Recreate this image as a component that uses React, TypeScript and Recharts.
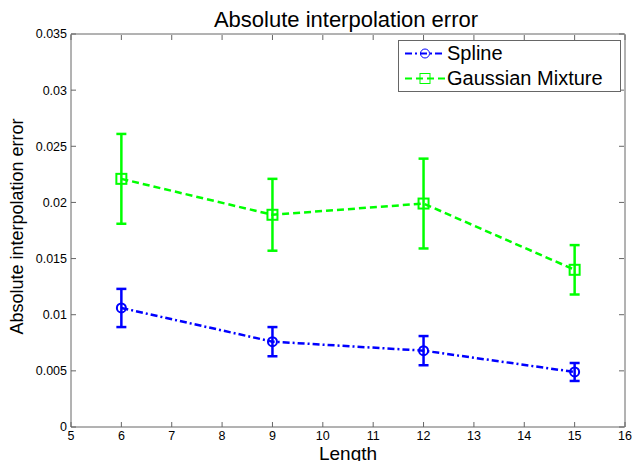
import { ComposedChart, Line, XAxis, YAxis, ErrorBar, Legend } from "recharts";

// values
const lengths = [6, 9, 12, 15];
const splineErr = [0.0106, 0.0076, 0.0068, 0.0049];
const splineStd = [0.0017, 0.0013, 0.0013, 0.0008];
const gaussErr = [0.0221, 0.0189, 0.0199, 0.014];
const gaussStd = [0.004, 0.0032, 0.004, 0.0022];

const xTicks = [5, 6, 7, 8, 9, 10, 11, 12, 13, 14, 15, 16];
const yTicks = [0, 0.005, 0.01, 0.015, 0.02, 0.025, 0.03, 0.035];

const data = lengths.map((len, i) => ({
  len,
  spline: splineErr[i],
  splineStd: splineStd[i],
  gauss: gaussErr[i],
  gaussStd: gaussStd[i],
}));

const BLUE = "#0000ff";
const GREEN = "#00ff00";
const AXIS = "#666";
const FONT = "'Liberation Sans', Arial, sans-serif";
const TICK_LEN = 5;

const BottomTick = (p: any) => (
  <g>
    <line x1={p.x} x2={p.x} y1={p.y - 4} y2={p.y - 4 - TICK_LEN} stroke={AXIS} />
    <text x={p.x} y={p.y} dy="0.71em" textAnchor="middle" fontSize={12.5} fontFamily={FONT} fill="#000">
      {p.payload.value}
    </text>
  </g>
);

const LeftTick = (p: any) => (
  <g>
    <line x1={p.x + 4} x2={p.x + 4 + TICK_LEN} y1={p.y} y2={p.y} stroke={AXIS} />
    <text x={p.x} y={p.y} dy="0.355em" textAnchor="end" fontSize={12.5} fontFamily={FONT} fill="#000">
      {String(p.payload.value)}
    </text>
  </g>
);

// top/right axes: 1px wide boxes, ticks point into the plot
const TopTick = (p: any) => (
  <line x1={p.x} x2={p.x} y1={p.y + 1} y2={p.y + 1 + TICK_LEN} stroke={AXIS} />
);

const RightTick = (p: any) => (
  <line x1={p.x - 1} x2={p.x - 1 - TICK_LEN} y1={p.y} y2={p.y} stroke={AXIS} />
);

const LegendBox = () => (
  <div
    style={{
      border: `1px solid ${AXIS}`,
      background: "#fff",
      fontFamily: FONT,
      fontSize: 20,
      width: 221,
      boxSizing: "content-box",
    }}
  >
    <div style={{ display: "flex", alignItems: "center", height: 25 }}>
      <svg width={48} height={25}>
        <line x1={6} x2={46} y1={12.5} y2={12.5} stroke={BLUE} strokeWidth={2} strokeDasharray="7 3 2 3" />
        <circle cx={26} cy={12.5} r={4.5} stroke={BLUE} fill="none" strokeWidth={1} />
      </svg>
      <span style={{ lineHeight: "25px" }}>Spline</span>
    </div>
    <div style={{ display: "flex", alignItems: "center", height: 25 }}>
      <svg width={48} height={25}>
        <line x1={6} x2={46} y1={12.5} y2={12.5} stroke={GREEN} strokeWidth={2} strokeDasharray="7 4" />
        <rect x={21} y={7.5} width={10} height={10} stroke={GREEN} fill="none" strokeWidth={1} />
      </svg>
      <span style={{ lineHeight: "25px" }}>Gaussian Mixture</span>
    </div>
  </div>
);

export default function App() {
  return (
    <div style={{ position: "absolute", left: 0, top: 0, background: "#fff" }}>
      <ComposedChart
        width={632}
        height={461}
        data={data}
        margin={{ top: 33, right: 6, bottom: 0, left: 0 }}
      >
        <XAxis
          dataKey="len"
          type="number"
          domain={[5, 16]}
          ticks={xTicks}
          height={34}
          tickSize={0}
          tickMargin={4}
          axisLine={{ stroke: AXIS }}
          tick={BottomTick}
          interval={0}
          label={{
            content: ({ viewBox }: any) => (
              <text
                x={viewBox.x + viewBox.width / 2}
                y={460}
                textAnchor="middle"
                fontSize={19}
                fontFamily={FONT}
                fill="#000"
              >
                Length
              </text>
            ),
          }}
        />
        <XAxis
          xAxisId="top"
          orientation="top"
          dataKey="len"
          type="number"
          domain={[5, 16]}
          ticks={xTicks}
          height={1}
          tickSize={0}
          tickMargin={0}
          axisLine={false}
          tick={TopTick}
          interval={0}
          label={{
            content: ({ viewBox }: any) => (
              <g>
                <line x1={viewBox.x} x2={viewBox.x + viewBox.width} y1={viewBox.y + 1} y2={viewBox.y + 1} stroke={AXIS} />
                <text
                  x={viewBox.x + viewBox.width / 2 - 2}
                  y={27}
                  textAnchor="middle"
                  fontSize={22}
                  fontFamily={FONT}
                  fill="#000"
                >
                  Absolute interpolation error
                </text>
              </g>
            ),
          }}
        />
        <YAxis
          type="number"
          domain={[0, 0.035]}
          ticks={yTicks}
          width={71}
          tickSize={0}
          tickMargin={4}
          axisLine={{ stroke: AXIS }}
          tick={LeftTick}
          interval={0}
          label={{
            content: ({ viewBox }: any) => {
              const cx = 23;
              const cy = viewBox.y + viewBox.height / 2 - 4;
              return (
                <text
                  x={cx}
                  y={cy}
                  transform={`rotate(-90 ${cx} ${cy})`}
                  textAnchor="middle"
                  fontSize={18}
                  fontFamily={FONT}
                  fill="#000"
                >
                  Absolute interpolation error
                </text>
              );
            },
          }}
        />
        <YAxis
          yAxisId="right"
          orientation="right"
          type="number"
          domain={[0, 0.035]}
          ticks={yTicks}
          width={1}
          tickSize={0}
          tickMargin={0}
          axisLine={false}
          tick={RightTick}
          interval={0}
          label={{
            content: ({ viewBox }: any) => (
              <line x1={viewBox.x} x2={viewBox.x} y1={viewBox.y} y2={viewBox.y + viewBox.height} stroke={AXIS} />
            ),
          }}
        />
        <Legend
          layout="vertical"
          align="center"
          verticalAlign="middle"
          wrapperStyle={{ left: 398, top: 40, width: 223 }}
          content={LegendBox}
        />
        <Line
          dataKey="spline"
          name="Spline"
          stroke={BLUE}
          strokeWidth={2.5}
          strokeDasharray="7 3 2 3"
          type="linear"
          isAnimationActive={false}
          dot={(p: any) => (
            <circle key={`s${p.index}`} cx={p.cx} cy={p.cy} r={4.5} stroke={BLUE} strokeWidth={2} fill="none" />
          )}
          activeDot={false}
        >
          <ErrorBar dataKey="splineStd" direction="y" width={5} stroke={BLUE} strokeWidth={2.5} isAnimationActive={false} />
        </Line>
        <Line
          dataKey="gauss"
          name="Gaussian Mixture"
          stroke={GREEN}
          strokeWidth={2.5}
          strokeDasharray="7 4"
          type="linear"
          isAnimationActive={false}
          dot={(p: any) => (
            <rect key={`g${p.index}`} x={p.cx - 5} y={p.cy - 5} width={10} height={10} stroke={GREEN} strokeWidth={2} fill="none" />
          )}
          activeDot={false}
        >
          <ErrorBar dataKey="gaussStd" direction="y" width={5} stroke={GREEN} strokeWidth={2.5} isAnimationActive={false} />
        </Line>
        {/* hidden series bind the top/right axes so Recharts draws them */}
        <Line
          xAxisId="top"
          yAxisId="right"
          dataKey="gauss"
          stroke="none"
          dot={false}
          activeDot={false}
          legendType="none"
          isAnimationActive={false}
        />
      </ComposedChart>
    </div>
  );
}
